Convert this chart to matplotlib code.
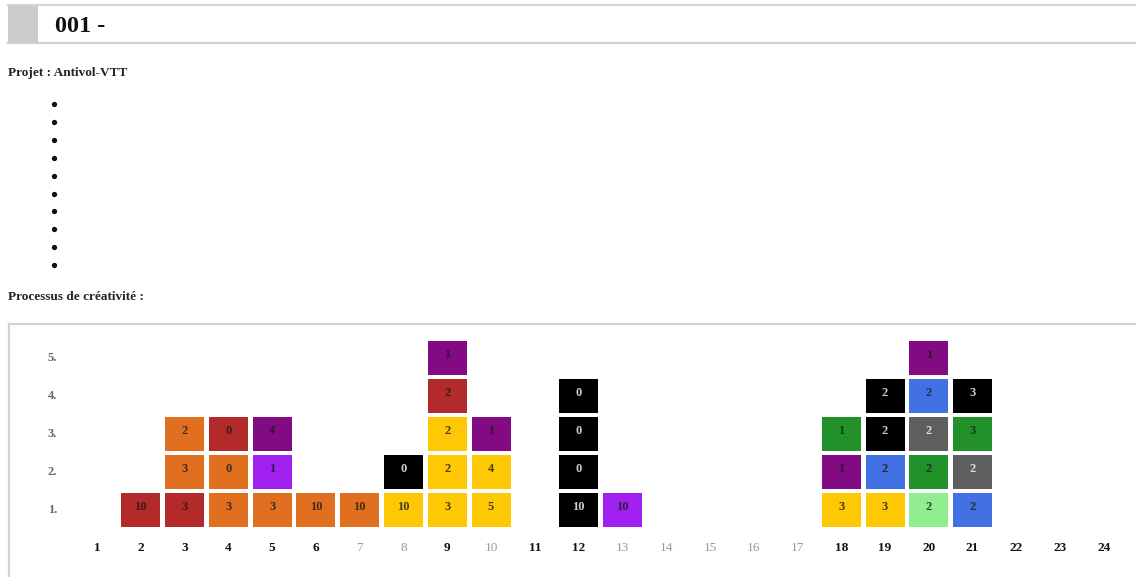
import matplotlib.pyplot as plt
from matplotlib.patches import Rectangle

# page text
header = '001 -'
project = 'Projet : Antivol-VTT'
section = 'Processus de créativité :'
n_bullets = 10

# grid axes labels
columns = list(range(1, 25))
bold_columns = [1, 2, 3, 4, 5, 6, 9, 11, 12, 18, 19, 20, 21, 22, 23, 24]
rows = [1, 2, 3, 4, 5]

# cells (column, row, colour, value)
cell_col = [2, 3, 3, 3, 4, 4, 4, 5, 5, 5, 6, 7, 8, 8, 9, 9, 9, 9, 9, 10, 10, 10,
            12, 12, 12, 12, 13, 18, 18, 18, 19, 19, 19, 19, 20, 20, 20, 20, 20,
            21, 21, 21, 21]
cell_row = [1, 1, 2, 3, 1, 2, 3, 1, 2, 3, 1, 1, 1, 2, 1, 2, 3, 4, 5, 1, 2, 3,
            1, 2, 3, 4, 1, 1, 2, 3, 1, 2, 3, 4, 1, 2, 3, 4, 5,
            1, 2, 3, 4]
cell_kind = ['red', 'red', 'orange', 'orange', 'orange', 'orange', 'red',
             'orange', 'violet', 'purple', 'orange', 'orange', 'gold', 'black',
             'gold', 'gold', 'gold', 'red', 'purple', 'gold', 'gold', 'purple',
             'black', 'black', 'black', 'black', 'violet',
             'gold', 'purple', 'green', 'gold', 'blue', 'black', 'black',
             'lightgreen', 'green', 'gray', 'blue', 'purple',
             'blue', 'gray', 'green', 'black']
cell_value = [10, 3, 3, 2, 3, 0, 0, 3, 1, 4, 10, 10, 10, 0, 3, 2, 2, 2, 1, 5, 4, 1,
              10, 0, 0, 0, 10, 3, 1, 1, 3, 2, 2, 2, 2, 2, 2, 2, 1,
              2, 2, 3, 3]

palette = {'red': '#b22a2a', 'orange': '#e0701f', 'gold': '#ffc805',
           'purple': '#820a82', 'violet': '#a020f0', 'black': '#000000',
           'green': '#23912a', 'blue': '#4171e3', 'lightgreen': '#90ee90',
           'gray': '#5e5e5e'}
light_text = ['black', 'gray']

W, H = 1136, 577
fig = plt.figure(figsize=(W / 100, H / 100), dpi=100)
plt.rcParams['font.family'] = ['Liberation Serif', 'DejaVu Serif']

# page layer in pixel units
page = fig.add_axes([0, 0, 1, 1])
page.set_xlim(0, W)
page.set_ylim(H, 0)
page.axis('off')

page.add_patch(Rectangle((8, 6), 30, 37, color='#cbcbcb', lw=0))
page.plot([8, W], [5, 5], color='#d4d4d4', lw=1.6)
page.plot([8, W], [43, 43], color='#cfcfcf', lw=1.6)
page.text(55, 26, header, fontsize=17.5, fontweight='bold', va='center', color='#111111')
page.text(8, 73, project, fontsize=9.5, fontweight='bold', va='center', color='#222222')
for i in range(n_bullets):
    page.plot(54, 104 + i * 17.9, 'o', color='#111111', ms=2.8)
page.text(8, 297, section, fontsize=9.5, fontweight='bold', va='center', color='#222222')
page.plot([9, W], [324, 324], color='#d2d2d2', lw=1.6)
page.plot([9, 9], [324, H], color='#d2d2d2', lw=1.6)

# chart layer: columns/rows in data units
ax = fig.add_axes([0, 0, 1, 1])
ax.set_xlim(-1.2157, 24.732)
ax.set_ylim(-0.763, 14.42)
ax.axis('off')

cw, ch = 0.89, 0.87
for c, r, k, v in zip(cell_col, cell_row, cell_kind, cell_value):
    ax.add_patch(Rectangle((c - cw / 2, r - ch / 2), cw, ch, color=palette[k], lw=0))
    tc = 'white' if k in light_text else '#1a1a1a'
    ax.text(c, r + 0.08, str(v), ha='center', va='center', fontsize=9,
            fontweight='bold', color=tc, alpha=0.8)

for r in rows:
    ax.text(-0.02, r, f'{r}.', ha='center', va='center', fontsize=9,
            fontweight='bold', color='#666666')

for c in columns:
    if c in bold_columns:
        ax.text(c, 0.0, str(c), ha='center', va='center', fontsize=9.5,
                fontweight='bold', color='#111111')
    else:
        ax.text(c, 0.0, str(c), ha='center', va='center', fontsize=9.5, color='#9a9a9a')

fig.savefig('out.png', dpi=100)
